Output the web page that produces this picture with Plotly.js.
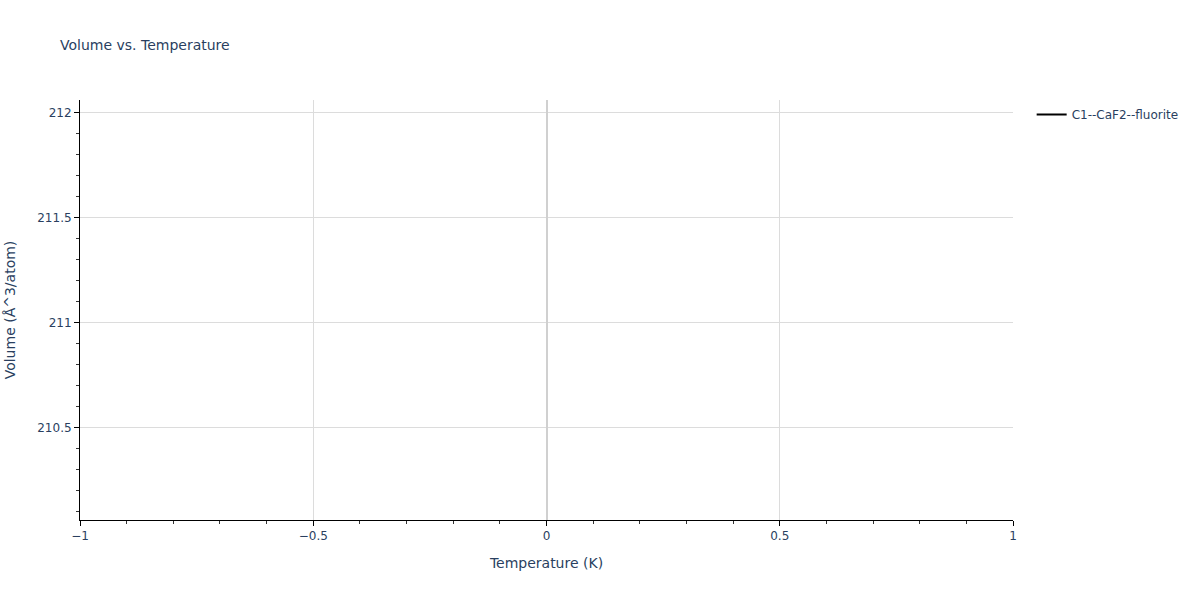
<!DOCTYPE html>
<html>
<head>
<meta charset="utf-8">
<script src="https://cdn.plot.ly/plotly-3.0.1.min.js"></script>
<style>
  html, body { margin: 0; padding: 0; background: #fff; }
  #plot { width: 1200px; height: 600px; }
</style>
</head>
<body>
<div id="plot"></div>
<script>
// single-point series
const seriesName = 'C1--CaF2--fluorite';
const temperature = [0];
const volume = [211.06];

const FONT = 'DejaVu Sans, Verdana, sans-serif';

const axisCommon = {
  showline: true,
  linecolor: '#000000',
  linewidth: 1,
  ticks: 'outside',
  ticklen: 5,
  tickcolor: '#000000',
  showgrid: true,
  gridcolor: '#dcdcdc',
  gridwidth: 1,
  tickfont: { family: FONT, size: 12, color: '#2a3f5f' },
  minor: { ticks: 'outside', ticklen: 3, tickcolor: '#333333', showgrid: false },
};

const data = [{
  x: temperature,
  y: volume,
  name: seriesName,
  type: 'scatter',
  mode: 'lines',
  line: { color: '#000000', width: 2 },
  showlegend: true,
}];

const layout = {
  width: 1200,
  height: 600,
  margin: { l: 80, r: 187, t: 100, b: 80 },
  paper_bgcolor: '#ffffff',
  plot_bgcolor: '#ffffff',
  font: { family: FONT, color: '#2a3f5f' },
  title: {
    text: 'Volume vs. Temperature',
    x: 0.05, xanchor: 'left',
    y: 0.925, yanchor: 'middle',
    font: { family: FONT, size: 14, color: '#2a3f5f' },
  },
  showlegend: true,
  legend: { x: 1.02, y: 1, xanchor: 'left', yanchor: 'top', font: { family: FONT, size: 12, color: '#2a3f5f' } },
  xaxis: Object.assign({}, axisCommon, {
    title: { text: 'Temperature (K)', standoff: 15, font: { family: FONT, size: 14, color: '#2a3f5f' } },
    range: [-1, 1],
    dtick: 0.5,
    minor: Object.assign({}, axisCommon.minor, { dtick: 0.1 }),
    zeroline: true,
    zerolinecolor: '#d0d0d0',
    zerolinewidth: 2,
  }),
  yaxis: Object.assign({}, axisCommon, {
    title: { text: 'Volume (Å^3/atom)', standoff: 18, font: { family: FONT, size: 14, color: '#2a3f5f' } },
    range: [volume[0] - 1, volume[0] + 1],
    dtick: 0.5,
    minor: Object.assign({}, axisCommon.minor, { dtick: 0.1 }),
    zeroline: false,
  }),
};

Plotly.newPlot('plot', data, layout, { displayModeBar: false });
</script>
</body>
</html>
